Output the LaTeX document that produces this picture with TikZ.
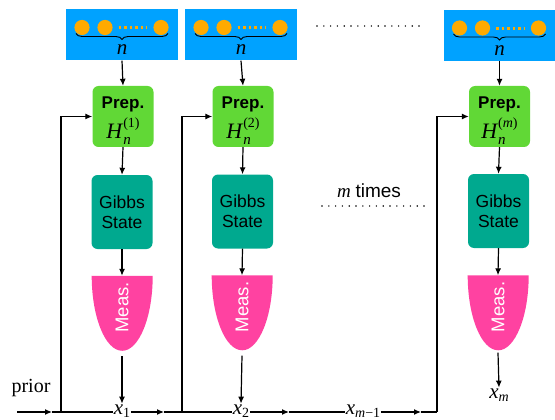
\documentclass[tikz,border=0pt]{standalone}
\usepackage{fontspec}
\setmainfont{Liberation Serif}
\setsansfont{Liberation Sans}
\usetikzlibrary{arrows.meta,decorations.pathreplacing,calc}
\definecolor{kblue}{HTML}{00A2FF}
\definecolor{korange}{HTML}{FFAA00}
\definecolor{kgreen}{HTML}{61D836}
\definecolor{kteal}{HTML}{00A98F}
\definecolor{kpink}{HTML}{FF42A1}
\newcommand\subfont{\fontsize{14}{14}\selectfont}
\newcommand\isub[2]{\textit{#1}\raisebox{-3.5pt}{\subfont #2}}
\newcommand\hham[1]{\textit{H}\rlap{\raisebox{-6pt}{\fontsize{15}{15}\selectfont\textit{n}}}\raisebox{11pt}{\subfont #1}}
\tikzset{
  every picture/.style={x=1pt,y=-1pt},
  conn/.style={line width=1.2pt},
  arr/.style={conn,-{Latex[length=7pt,width=6pt]}},
  regbox/.style={fill=kblue,minimum width=112pt,minimum height=51pt,inner sep=0pt},
  prepbox/.style={fill=kgreen,rounded corners=6pt,minimum width=61pt,minimum height=61pt,inner sep=0pt},
  preptxt/.style={font=\sffamily\bfseries\fontsize{17}{19}\selectfont,inner sep=0pt,anchor=base},
  hamtxt/.style={font=\rmfamily\fontsize{22}{24}\selectfont,inner sep=0pt,anchor=base},
  gibbsbox/.style={fill=kteal,rounded corners=6pt,minimum width=61pt,minimum height=74pt,inner sep=0pt,align=center,font=\sffamily\fontsize{17.5}{20}\selectfont},
  measbox/.style={minimum width=61pt,minimum height=75pt,inner sep=0pt},
  mathlbl/.style={font=\rmfamily\fontsize{21}{23}\selectfont,inner sep=0.5pt},
  qdot/.style={fill=korange},
  dotline/.style={line width=1.6pt,line cap=round,dash pattern=on 0pt off 6.8pt},
}
\newcommand\qreg[1]{%
  \begin{scope}[shift={(#1.center)}]
    \fill[qdot] (-40,-7.5) circle[radius=7.6pt];
    \fill[qdot] (-17,-7.5) circle[radius=7.6pt];
    \fill[qdot] (39,-7.5) circle[radius=7.6pt];
    \draw[korange,line width=3pt,dash pattern=on 2.8pt off 2.7pt] (-3.5,-7) -- (25,-7);
    \draw[line width=0.9pt,decorate,decoration={brace,mirror,amplitude=6pt}] (-46,-1.5) -- (46,-1.5);
    \node[mathlbl] at (0,15) {\textit{n}};
  \end{scope}}
\newcommand\measshape[1]{%
  \fill[kpink] (#1.north west) -- (#1.north east) arc[start angle=0,end angle=-180,x radius=30.5pt,y radius=75pt] -- cycle;
  \node[rotate=90,text=white,font=\sffamily\fontsize{18.5}{20}\selectfont] at ($(#1.center)+(0,-6)$) {Meas.};}
\newcommand\prepfill[2]{%
  \node[preptxt] at ($(#1.center)+(0,-7.5)$) {Prep.};
  \node[hamtxt] at ($(#1.center)+(0,22.5)$) {\hham{#2}};}
\begin{document}
\begin{tikzpicture}
\useasboundingbox (0,0) rectangle (555,420);
% registers
\node[regbox] (b1) at (122,35) {};
\node[regbox] (b2) at (241,35) {};
\node[regbox,minimum width=111pt] (b3) at (499.5,35.5) {};
\qreg{b1}\qreg{b2}\qreg{b3}
% preparation
\node[prepbox] (p1) at (123,116.5) {};
\node[prepbox] (p2) at (243,116.5) {};
\node[prepbox] (p3) at (499.5,116.5) {};
\prepfill{p1}{(1)}\prepfill{p2}{(2)}\prepfill{p3}{(\textit{m})}
% gibbs
\node[gibbsbox] (g1) at (122,212) {Gibbs\\State};
\node[gibbsbox] (g2) at (242.5,211.5) {Gibbs\\State};
\node[gibbsbox] (g3) at (498.5,211) {Gibbs\\State};
% measurement
\node[measbox] (m1) at (122,313.5) {};
\node[measbox] (m2) at (242,313) {};
\node[measbox] (m3) at (498,313) {};
\measshape{m1}\measshape{m2}\measshape{m3}
% outputs
\node[mathlbl,anchor=base] (x1) at (122,414) {\isub{x}{1}};
\node[mathlbl,anchor=base] (x2) at (241,414) {\isub{x}{2}};
\node[mathlbl,anchor=base] (xm1) at (363,414) {\isub{x}{\textit{m}−1}};
\node[mathlbl,anchor=base] (xm) at (499,398) {\isub{x}{\textit{m}}};
\node[font=\fontsize{20}{22}\selectfont,anchor=base] (prior) at (31,392) {prior};
% dotted separators
\node[font=\fontsize{19}{21}\selectfont,anchor=base] (mt) at (369,197) {\textit{m} \sffamily times};
\coordinate (d1a) at (317,26); \coordinate (d1b) at (419,26);
\coordinate (d2a) at (322,206); \coordinate (d2b) at (424,206);
\draw[dotline] (d1a) -- (d1b);
\draw[dotline] (d2a) -- (d2b);
% vertical arrows
\foreach \i in {1,2,3}{
  \draw[arr] (b\i.south) -- (p\i.north);
  \draw[arr] (p\i.south) -- (g\i.north);
  \draw[arr] (g\i.south) -- (m\i.north);
}
\draw[arr] ([yshift=-5pt]m1.south) -- (x1.north);
\draw[arr] ([yshift=-5pt]m2.south) -- (x2.north);
\draw[arr] ([yshift=-2pt]m3.south) -- (xm.north);
% bottom chain
\coordinate (s0) at (17,412);
\coordinate (t0) at (52,412);
\coordinate (j1) at (61,412);
\coordinate (t1) at (164,412);
\coordinate (j2) at (182,412);
\coordinate (t2) at (289,412);
\coordinate (t3) at (421,412);
\coordinate (j3) at (437,412);
\draw[arr] (s0) -- (t0);
\draw[conn] (t0) -- (j1) -- (j1 -| x1.west);
\draw[arr] (j1) |- (p1.west);
\draw[arr] (x1.east |- j1) -- (t1);
\draw[conn] (t1) -- (j2) -- (j2 -| x2.west);
\draw[arr] (j2) |- (p2.west);
\draw[arr] (x2.east |- j2) -- (t2);
\draw[conn] (t2) -- (t2 -| xm1.west);
\draw[arr] (xm1.east |- j3) -- (t3);
\draw[conn] (t3) -- (j3);
\draw[arr] (j3) |- (p3.west);
\end{tikzpicture}
\end{document}
